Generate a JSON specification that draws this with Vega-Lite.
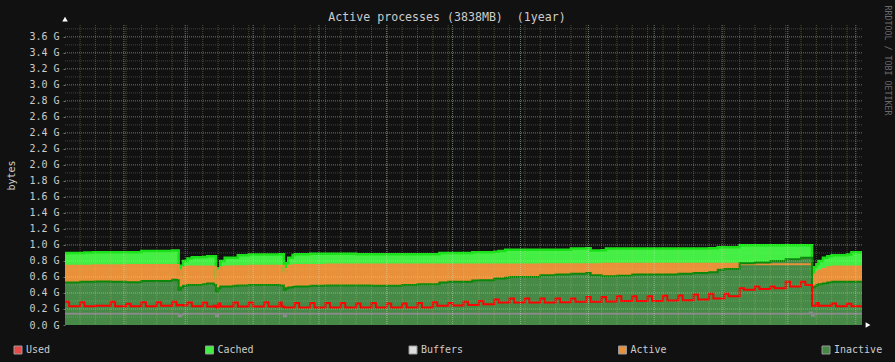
{
  "$schema": "https://vega.github.io/schema/vega-lite/v6.json",
  "width": 797,
  "height": 300,
  "autosize": {"type": "none"},
  "padding": {"left": 65, "top": 25, "right": 33, "bottom": 37},
  "background": "#111111",
  "title": {"text": "Active processes (3838MB) \u00a0(1year)", "anchor": "middle", "frame": "group", "dx": -16.5, "dy": 32, "offset": 4, "baseline": "alphabetic", "font": "DejaVu Sans Mono", "fontSize": 11.6, "fontWeight": "normal", "color": "#cccccc"},
  "datasets": {
    "mem": [
      {"t":"2025-01-05","c":0.90,"a":0.74,"i":0.53,"u":0.29,"b":0.14},
      {"t":"2025-01-07","c":0.90,"a":0.74,"i":0.53,"u":0.235,"b":0.14},
      {"t":"2025-01-12","c":0.90,"a":0.74,"i":0.54,"u":0.285,"b":0.14},
      {"t":"2025-01-14","c":0.905,"a":0.74,"i":0.54,"u":0.235,"b":0.14},
      {"t":"2025-01-18","c":0.91,"a":0.745,"i":0.54,"u":0.235,"b":0.14},
      {"t":"2025-01-19","c":0.91,"a":0.745,"i":0.545,"u":0.24,"b":0.14},
      {"t":"2025-01-26","c":0.91,"a":0.745,"i":0.54,"u":0.29,"b":0.14},
      {"t":"2025-01-28","c":0.91,"a":0.745,"i":0.54,"u":0.235,"b":0.14},
      {"t":"2025-02-02","c":0.91,"a":0.75,"i":0.535,"u":0.265,"b":0.14},
      {"t":"2025-02-04","c":0.91,"a":0.75,"i":0.535,"u":0.235,"b":0.14},
      {"t":"2025-02-09","c":0.925,"a":0.75,"i":0.55,"u":0.285,"b":0.14},
      {"t":"2025-02-11","c":0.925,"a":0.75,"i":0.55,"u":0.235,"b":0.14},
      {"t":"2025-02-16","c":0.925,"a":0.75,"i":0.55,"u":0.285,"b":0.14},
      {"t":"2025-02-18","c":0.925,"a":0.75,"i":0.55,"u":0.24,"b":0.14},
      {"t":"2025-02-23","c":0.93,"a":0.75,"i":0.565,"u":0.29,"b":0.14},
      {"t":"2025-02-25","c":0.93,"a":0.75,"i":0.56,"u":0.245,"b":0.14},
      {"t":"2025-02-26","c":0.60,"a":0.55,"i":0.44,"u":0.25,"b":0.11},
      {"t":"2025-02-27","c":0.74,"a":0.68,"i":0.47,"u":0.25,"b":0.13},
      {"t":"2025-02-28","c":0.80,"a":0.72,"i":0.49,"u":0.245,"b":0.14},
      {"t":"2025-03-02","c":0.83,"a":0.73,"i":0.50,"u":0.28,"b":0.14},
      {"t":"2025-03-04","c":0.845,"a":0.73,"i":0.50,"u":0.235,"b":0.14},
      {"t":"2025-03-09","c":0.85,"a":0.73,"i":0.51,"u":0.28,"b":0.14},
      {"t":"2025-03-11","c":0.86,"a":0.73,"i":0.52,"u":0.23,"b":0.14},
      {"t":"2025-03-14","c":0.86,"a":0.72,"i":0.50,"u":0.24,"b":0.14},
      {"t":"2025-03-15","c":0.59,"a":0.57,"i":0.42,"u":0.22,"b":0.11},
      {"t":"2025-03-16","c":0.71,"a":0.68,"i":0.46,"u":0.27,"b":0.14},
      {"t":"2025-03-17","c":0.80,"a":0.72,"i":0.48,"u":0.23,"b":0.14},
      {"t":"2025-03-19","c":0.84,"a":0.73,"i":0.48,"u":0.23,"b":0.14},
      {"t":"2025-03-23","c":0.84,"a":0.735,"i":0.49,"u":0.28,"b":0.14},
      {"t":"2025-03-25","c":0.87,"a":0.735,"i":0.495,"u":0.23,"b":0.14},
      {"t":"2025-03-30","c":0.88,"a":0.74,"i":0.50,"u":0.28,"b":0.14},
      {"t":"2025-04-01","c":0.88,"a":0.74,"i":0.50,"u":0.23,"b":0.14},
      {"t":"2025-04-06","c":0.88,"a":0.74,"i":0.50,"u":0.285,"b":0.14},
      {"t":"2025-04-08","c":0.88,"a":0.74,"i":0.50,"u":0.23,"b":0.14},
      {"t":"2025-04-13","c":0.885,"a":0.74,"i":0.495,"u":0.28,"b":0.14},
      {"t":"2025-04-14","c":0.885,"a":0.74,"i":0.495,"u":0.23,"b":0.14},
      {"t":"2025-04-15","c":0.68,"a":0.63,"i":0.44,"u":0.22,"b":0.11},
      {"t":"2025-04-16","c":0.77,"a":0.70,"i":0.46,"u":0.22,"b":0.14},
      {"t":"2025-04-17","c":0.84,"a":0.74,"i":0.47,"u":0.22,"b":0.14},
      {"t":"2025-04-19","c":0.875,"a":0.745,"i":0.475,"u":0.22,"b":0.14},
      {"t":"2025-04-20","c":0.885,"a":0.75,"i":0.48,"u":0.275,"b":0.14},
      {"t":"2025-04-22","c":0.885,"a":0.75,"i":0.48,"u":0.22,"b":0.14},
      {"t":"2025-04-27","c":0.89,"a":0.75,"i":0.49,"u":0.275,"b":0.14},
      {"t":"2025-04-29","c":0.89,"a":0.75,"i":0.49,"u":0.22,"b":0.14},
      {"t":"2025-05-04","c":0.89,"a":0.755,"i":0.495,"u":0.275,"b":0.14},
      {"t":"2025-05-06","c":0.89,"a":0.755,"i":0.495,"u":0.22,"b":0.14},
      {"t":"2025-05-11","c":0.89,"a":0.755,"i":0.495,"u":0.275,"b":0.14},
      {"t":"2025-05-13","c":0.89,"a":0.755,"i":0.495,"u":0.22,"b":0.14},
      {"t":"2025-05-18","c":0.885,"a":0.755,"i":0.495,"u":0.27,"b":0.14},
      {"t":"2025-05-20","c":0.885,"a":0.755,"i":0.495,"u":0.22,"b":0.14},
      {"t":"2025-05-25","c":0.885,"a":0.755,"i":0.49,"u":0.275,"b":0.14},
      {"t":"2025-05-27","c":0.885,"a":0.755,"i":0.49,"u":0.22,"b":0.14},
      {"t":"2025-06-01","c":0.885,"a":0.755,"i":0.49,"u":0.27,"b":0.14},
      {"t":"2025-06-03","c":0.885,"a":0.755,"i":0.49,"u":0.22,"b":0.14},
      {"t":"2025-06-08","c":0.885,"a":0.755,"i":0.50,"u":0.27,"b":0.14},
      {"t":"2025-06-10","c":0.885,"a":0.755,"i":0.50,"u":0.22,"b":0.14},
      {"t":"2025-06-15","c":0.885,"a":0.755,"i":0.51,"u":0.275,"b":0.14},
      {"t":"2025-06-17","c":0.885,"a":0.755,"i":0.51,"u":0.22,"b":0.14},
      {"t":"2025-06-22","c":0.885,"a":0.755,"i":0.51,"u":0.285,"b":0.14},
      {"t":"2025-06-24","c":0.885,"a":0.755,"i":0.51,"u":0.24,"b":0.14},
      {"t":"2025-06-25","c":0.90,"a":0.755,"i":0.53,"u":0.24,"b":0.14},
      {"t":"2025-06-29","c":0.90,"a":0.755,"i":0.54,"u":0.275,"b":0.14},
      {"t":"2025-07-01","c":0.90,"a":0.755,"i":0.54,"u":0.245,"b":0.14},
      {"t":"2025-07-06","c":0.90,"a":0.755,"i":0.54,"u":0.29,"b":0.14},
      {"t":"2025-07-08","c":0.90,"a":0.755,"i":0.54,"u":0.25,"b":0.14},
      {"t":"2025-07-10","c":0.91,"a":0.755,"i":0.555,"u":0.25,"b":0.14},
      {"t":"2025-07-13","c":0.91,"a":0.755,"i":0.56,"u":0.30,"b":0.14},
      {"t":"2025-07-15","c":0.91,"a":0.755,"i":0.56,"u":0.26,"b":0.14},
      {"t":"2025-07-20","c":0.915,"a":0.755,"i":0.58,"u":0.32,"b":0.14},
      {"t":"2025-07-22","c":0.925,"a":0.755,"i":0.58,"u":0.28,"b":0.14},
      {"t":"2025-07-25","c":0.94,"a":0.755,"i":0.59,"u":0.28,"b":0.14},
      {"t":"2025-07-27","c":0.94,"a":0.755,"i":0.60,"u":0.33,"b":0.14},
      {"t":"2025-07-29","c":0.94,"a":0.755,"i":0.60,"u":0.28,"b":0.14},
      {"t":"2025-08-03","c":0.94,"a":0.755,"i":0.60,"u":0.33,"b":0.14},
      {"t":"2025-08-05","c":0.94,"a":0.755,"i":0.60,"u":0.28,"b":0.14},
      {"t":"2025-08-10","c":0.94,"a":0.76,"i":0.62,"u":0.33,"b":0.14},
      {"t":"2025-08-12","c":0.94,"a":0.76,"i":0.62,"u":0.28,"b":0.14},
      {"t":"2025-08-17","c":0.94,"a":0.76,"i":0.63,"u":0.33,"b":0.14},
      {"t":"2025-08-19","c":0.94,"a":0.76,"i":0.63,"u":0.285,"b":0.14},
      {"t":"2025-08-24","c":0.955,"a":0.76,"i":0.64,"u":0.33,"b":0.14},
      {"t":"2025-08-26","c":0.955,"a":0.76,"i":0.64,"u":0.29,"b":0.14},
      {"t":"2025-08-31","c":0.96,"a":0.76,"i":0.65,"u":0.35,"b":0.14},
      {"t":"2025-09-02","c":0.93,"a":0.76,"i":0.62,"u":0.29,"b":0.14},
      {"t":"2025-09-07","c":0.935,"a":0.765,"i":0.61,"u":0.35,"b":0.14},
      {"t":"2025-09-09","c":0.955,"a":0.765,"i":0.61,"u":0.295,"b":0.14},
      {"t":"2025-09-14","c":0.955,"a":0.765,"i":0.615,"u":0.36,"b":0.14},
      {"t":"2025-09-16","c":0.955,"a":0.765,"i":0.615,"u":0.30,"b":0.14},
      {"t":"2025-09-21","c":0.955,"a":0.765,"i":0.63,"u":0.36,"b":0.14},
      {"t":"2025-09-23","c":0.955,"a":0.765,"i":0.63,"u":0.30,"b":0.14},
      {"t":"2025-09-28","c":0.955,"a":0.765,"i":0.63,"u":0.36,"b":0.14},
      {"t":"2025-09-30","c":0.955,"a":0.765,"i":0.63,"u":0.30,"b":0.14},
      {"t":"2025-10-05","c":0.955,"a":0.765,"i":0.63,"u":0.365,"b":0.14},
      {"t":"2025-10-07","c":0.955,"a":0.765,"i":0.63,"u":0.305,"b":0.14},
      {"t":"2025-10-12","c":0.955,"a":0.765,"i":0.64,"u":0.37,"b":0.14},
      {"t":"2025-10-14","c":0.955,"a":0.765,"i":0.64,"u":0.31,"b":0.14},
      {"t":"2025-10-19","c":0.955,"a":0.765,"i":0.65,"u":0.38,"b":0.14},
      {"t":"2025-10-21","c":0.955,"a":0.765,"i":0.65,"u":0.32,"b":0.14},
      {"t":"2025-10-26","c":0.96,"a":0.765,"i":0.66,"u":0.39,"b":0.14},
      {"t":"2025-10-28","c":0.96,"a":0.765,"i":0.66,"u":0.33,"b":0.14},
      {"t":"2025-10-30","c":0.97,"a":0.765,"i":0.69,"u":0.33,"b":0.14},
      {"t":"2025-11-02","c":0.97,"a":0.765,"i":0.70,"u":0.39,"b":0.14},
      {"t":"2025-11-04","c":0.97,"a":0.765,"i":0.70,"u":0.36,"b":0.14},
      {"t":"2025-11-09","c":0.995,"a":0.76,"i":0.77,"u":0.46,"b":0.14},
      {"t":"2025-11-11","c":0.995,"a":0.76,"i":0.77,"u":0.44,"b":0.14},
      {"t":"2025-11-16","c":0.995,"a":0.76,"i":0.78,"u":0.48,"b":0.14},
      {"t":"2025-11-18","c":0.995,"a":0.76,"i":0.78,"u":0.45,"b":0.14},
      {"t":"2025-11-23","c":0.995,"a":0.76,"i":0.80,"u":0.48,"b":0.14},
      {"t":"2025-11-25","c":0.995,"a":0.76,"i":0.80,"u":0.46,"b":0.14},
      {"t":"2025-11-30","c":0.995,"a":0.76,"i":0.82,"u":0.54,"b":0.14},
      {"t":"2025-12-02","c":0.995,"a":0.76,"i":0.82,"u":0.48,"b":0.14},
      {"t":"2025-12-07","c":0.995,"a":0.76,"i":0.84,"u":0.54,"b":0.14},
      {"t":"2025-12-09","c":0.995,"a":0.76,"i":0.84,"u":0.50,"b":0.14},
      {"t":"2025-12-11","c":0.995,"a":0.76,"i":0.84,"u":0.50,"b":0.155},
      {"t":"2025-12-12","c":0.61,"a":0.56,"i":0.47,"u":0.24,"b":0.12},
      {"t":"2025-12-13","c":0.72,"a":0.63,"i":0.48,"u":0.24,"b":0.14},
      {"t":"2025-12-14","c":0.76,"a":0.66,"i":0.50,"u":0.275,"b":0.14},
      {"t":"2025-12-15","c":0.80,"a":0.68,"i":0.51,"u":0.24,"b":0.14},
      {"t":"2025-12-17","c":0.84,"a":0.70,"i":0.52,"u":0.24,"b":0.14},
      {"t":"2025-12-19","c":0.86,"a":0.72,"i":0.53,"u":0.24,"b":0.14},
      {"t":"2025-12-21","c":0.87,"a":0.73,"i":0.54,"u":0.27,"b":0.14},
      {"t":"2025-12-23","c":0.87,"a":0.73,"i":0.54,"u":0.235,"b":0.14},
      {"t":"2025-12-28","c":0.88,"a":0.73,"i":0.54,"u":0.265,"b":0.14},
      {"t":"2025-12-30","c":0.91,"a":0.73,"i":0.54,"u":0.235,"b":0.14},
      {"t":"2026-01-04","c":0.91,"a":0.735,"i":0.545,"u":0.235,"b":0.14}
    ],
    "weeks": [
      {"t":"2025-01-12"},{"t":"2025-01-19"},{"t":"2025-01-26"},{"t":"2025-02-02"},{"t":"2025-02-09"},{"t":"2025-02-16"},{"t":"2025-02-23"},
      {"t":"2025-03-02"},{"t":"2025-03-09"},{"t":"2025-03-16"},{"t":"2025-03-23"},{"t":"2025-03-30"},{"t":"2025-04-06"},{"t":"2025-04-13"},
      {"t":"2025-04-20"},{"t":"2025-04-27"},{"t":"2025-05-04"},{"t":"2025-05-11"},{"t":"2025-05-18"},{"t":"2025-05-25"},{"t":"2025-06-01"},
      {"t":"2025-06-08"},{"t":"2025-06-15"},{"t":"2025-06-22"},{"t":"2025-06-29"},{"t":"2025-07-06"},{"t":"2025-07-13"},{"t":"2025-07-20"},
      {"t":"2025-07-27"},{"t":"2025-08-03"},{"t":"2025-08-10"},{"t":"2025-08-17"},{"t":"2025-08-24"},{"t":"2025-08-31"},{"t":"2025-09-07"},
      {"t":"2025-09-14"},{"t":"2025-09-21"},{"t":"2025-09-28"},{"t":"2025-10-05"},{"t":"2025-10-12"},{"t":"2025-10-19"},{"t":"2025-10-26"},
      {"t":"2025-11-02"},{"t":"2025-11-09"},{"t":"2025-11-16"},{"t":"2025-11-23"},{"t":"2025-11-30"},{"t":"2025-12-07"},{"t":"2025-12-14"},
      {"t":"2025-12-21"},{"t":"2025-12-28"}
    ],
    "months": [
      {"t":"2025-02-01"},{"t":"2025-03-01"},{"t":"2025-04-01"},{"t":"2025-05-01"},{"t":"2025-06-01"},{"t":"2025-07-01"},
      {"t":"2025-08-01"},{"t":"2025-09-01"},{"t":"2025-10-01"},{"t":"2025-11-01"},{"t":"2025-12-01"},{"t":"2026-01-01"}
    ],
    "minorY": [
      {"v":0.1},{"v":0.3},{"v":0.5},{"v":0.7},{"v":0.9},{"v":1.1},{"v":1.3},{"v":1.5},{"v":1.7},{"v":1.9},
      {"v":2.1},{"v":2.3},{"v":2.5},{"v":2.7},{"v":2.9},{"v":3.1},{"v":3.3},{"v":3.5},{"v":3.7}
    ],
    "majorY": [
      {"v":0.2},{"v":0.4},{"v":0.6},{"v":0.8},{"v":1.0},{"v":1.2},{"v":1.4},{"v":1.6},{"v":1.8},
      {"v":2.0},{"v":2.2},{"v":2.4},{"v":2.6},{"v":2.8},{"v":3.0},{"v":3.2},{"v":3.4},{"v":3.6}
    ],
    "arrows": [
      {"t":"2025-01-05T03:20:00Z","v":3.82,"dir":"up"},
      {"t":"2026-01-06T14:00:00Z","v":0,"dir":"right"}
    ],
    "legend": [
      {"s":"Used"},{"s":"Cached"},{"s":"Buffers"},{"s":"Active"},{"s":"Inactive"}
    ]
  },
  "layer": [
    {
      "data": {"name": "mem"},
      "encoding": {
        "x": {
          "field": "t", "type": "temporal", "title": null,
          "scale": {"type": "utc", "nice": false, "domain": [{"year":2025,"date":5,"hours":3,"utc":true},{"year":2025,"date":368,"hours":20,"utc":true}]},
          "axis": {
            "values": [1736985600000,1739664000000,1742083200000,1744761600000,1747353600000,1750032000000,1752624000000,1755302400000,1757980800000,1760572800000,1763251200000,1765843200000],
            "format": "%b '%y",
            "domain": false,
            "grid": false,
            "ticks": false,
            "labelFont": "DejaVu Sans Mono",
            "labelFontSize": 10,
            "labelColor": "#cccccc",
            "labelPadding": 5,
            "labelOverlap": false,
            "labelFlush": false,
            "labelBound": false
          }
        }
      },
      "layer": [
        {"mark": {"type": "area", "interpolate": "step-after", "color": "#44ee44", "clip": true},
         "encoding": {"y": {"field": "c", "type": "quantitative", "scale": {"domain": [0, 3.748], "nice": false}, "axis": null}}},
        {"mark": {"type": "area", "interpolate": "step-after", "color": "#e8913a", "clip": true},
         "encoding": {"y": {"field": "a", "type": "quantitative", "axis": null}}},
        {"mark": {"type": "area", "interpolate": "step-after", "color": "#478a47", "clip": true},
         "encoding": {"y": {"field": "i", "type": "quantitative", "axis": null}}},
        {"mark": {"type": "line", "interpolate": "step-after", "color": "#19e019", "strokeWidth": 2.5, "clip": true},
         "encoding": {"y": {"field": "c", "type": "quantitative", "axis": null}}},
        {"mark": {"type": "line", "interpolate": "step-after", "color": "#e8913a", "strokeWidth": 2, "clip": true},
         "encoding": {"y": {"field": "a", "type": "quantitative", "axis": null}}},
        {"mark": {"type": "line", "interpolate": "step-after", "color": "#0b870b", "strokeWidth": 2, "clip": true},
         "encoding": {"y": {"field": "i", "type": "quantitative", "axis": null}}},
        {"mark": {"type": "line", "interpolate": "step-after", "color": "#ff0000", "strokeWidth": 2, "clip": true},
         "encoding": {"y": {"field": "u", "type": "quantitative", "axis": null}}},
        {"mark": {"type": "line", "interpolate": "step-after", "color": "#8a8a8a", "strokeWidth": 2, "clip": true},
         "encoding": {"y": {"field": "b", "type": "quantitative", "axis": null}}}
      ]
    },
    {
      "data": {"name": "weeks"},
      "mark": {"type": "rule", "color": "rgba(200,200,120,0.32)", "strokeWidth": 1, "strokeDash": [1, 1]},
      "encoding": {"x": {"field": "t", "type": "temporal", "axis": null}}
    },
    {
      "data": {"name": "minorY"},
      "mark": {"type": "rule", "color": "rgba(200,200,120,0.28)", "strokeWidth": 1, "strokeDash": [1, 1]},
      "encoding": {"y": {"field": "v", "type": "quantitative", "axis": null}}
    },
    {
      "data": {"name": "months"},
      "mark": {"type": "rule", "color": "rgba(200,230,200,0.5)", "strokeWidth": 1, "strokeDash": [1, 1]},
      "encoding": {"x": {"field": "t", "type": "temporal", "axis": null}}
    },
    {
      "data": {"name": "majorY"},
      "mark": {"type": "rule", "color": "rgba(210,215,195,0.5)", "strokeWidth": 1, "strokeDash": [1, 1]},
      "encoding": {"y": {"field": "v", "type": "quantitative", "title": "bytes",
        "axis": {
          "values": [0,0.2,0.4,0.6,0.8,1.0,1.2,1.4,1.6,1.8,2.0,2.2,2.4,2.6,2.8,3.0,3.2,3.4,3.6],
          "format": ".1f",
          "labelExpr": "datum.label + ' G'",
          "domain": false,
          "grid": false,
          "ticks": true,
          "tickSize": 2,
          "tickColor": "rgba(200,210,190,0.5)",
          "labelFont": "DejaVu Sans Mono",
          "labelFontSize": 10,
          "labelColor": "#cccccc",
          "labelPadding": 4,
          "labelOverlap": false,
          "labelFlush": false,
          "labelBound": false,
          "titleFont": "DejaVu Sans Mono",
          "titleFontSize": 10,
          "titleFontWeight": "normal",
          "titleColor": "#cccccc",
          "titleAngle": 270,
          "titleX": -54,
          "titleY": 150,
          "titleAlign": "center",
          "titleBaseline": "middle"
        }}}
    },
    {
      "data": {"name": "arrows"},
      "mark": {"type": "point", "filled": true, "opacity": 1, "color": "#ffffff", "size": 30},
      "encoding": {
        "x": {"field": "t", "type": "temporal", "axis": null},
        "y": {"field": "v", "type": "quantitative",
          "axis": {"orient": "right", "title": "RRDTOOL / TOBI OETIKER", "labels": false, "ticks": false, "domain": false, "grid": false,
            "titleAngle": 90, "titleX": 24, "titleY": -20, "titleAlign": "left", "titleBaseline": "middle",
            "titleFont": "DejaVu Sans Mono", "titleFontSize": 8.3, "titleFontWeight": "normal", "titleColor": "#6a6a6a"}},
        "shape": {"field": "dir", "type": "nominal", "scale": {"domain": ["up", "right"], "range": ["triangle-up", "triangle-right"]}, "legend": null}
      }
    },
    {
      "data": {"name": "legend"},
      "mark": {"type": "point", "shape": "square", "filled": true, "opacity": 0},
      "encoding": {
        "color": {"field": "s", "type": "nominal",
          "scale": {"domain": ["Used", "Cached", "Buffers", "Active", "Inactive"], "range": ["#e84a4a", "#44ee44", "#dddddd", "#e8913a", "#448844"]},
          "legend": {"orient": "none", "legendX": -52, "legendY": 320, "direction": "horizontal", "title": null,
            "symbolType": "square", "symbolSize": 64, "symbolStrokeColor": "#999999", "symbolStrokeWidth": 1, "symbolOpacity": 1,
            "labelFont": "DejaVu Sans Mono", "labelFontSize": 10, "labelColor": "#cccccc", "labelOffset": 3,
            "columnPadding": 152.5, "padding": 0}}
      }
    }
  ],
  "resolve": {"axis": {"y": "independent"}},
  "config": {
    "view": {"stroke": null, "fill": "#000000"},
    "font": "DejaVu Sans Mono"
  }
}
